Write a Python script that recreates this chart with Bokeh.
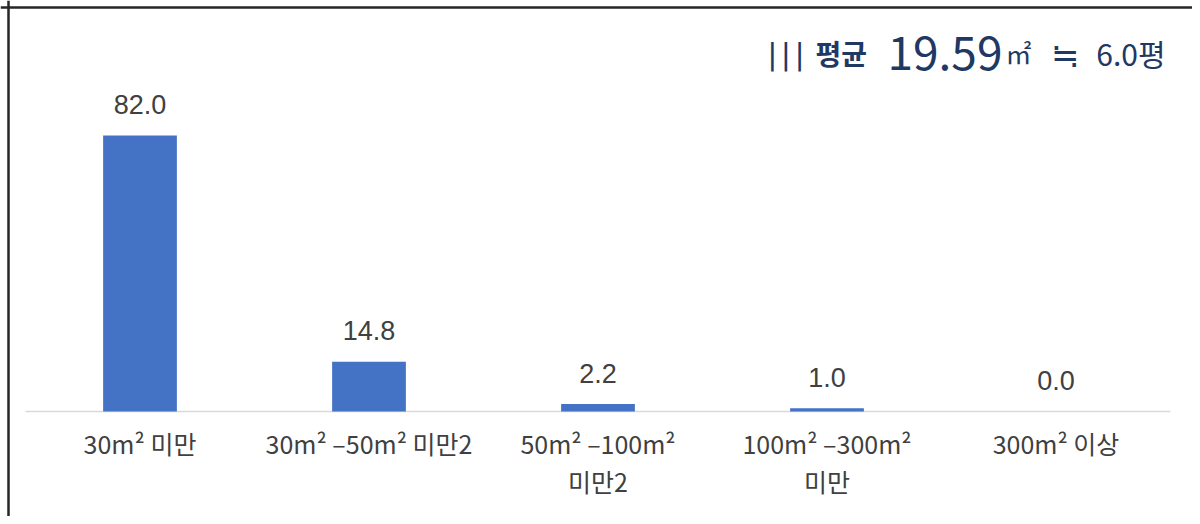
from bokeh.plotting import figure
from bokeh.models import Range1d, Span, ColumnDataSource
from bokeh.core.properties import value
from bokeh.embed import file_html
from bokeh.resources import INLINE

# ---- data ----
categories = ["30m² 미만", "30m² –50m² 미만2", "50m² –100m²\n미만2", "100m² –300m²\n미만", "300m² 이상"]
shares = [82.0, 14.8, 2.2, 1.0, 0.0]
value_labels = ["82.0", "14.8", "2.2", "1.0", "0.0"]
title_parts = ["| | |", "평균", "19.59", "㎡", "≒", "6.0평"]

# ---- layout constants ----
W, H = 1192, 516
PX_PER_CAT = 229
LEFT_PAD, RIGHT_PAD = 25, 22
BASE_Y = 411
PX_PER_UNIT = 3.366
FONT = value("Noto Sans CJK KR")
NUM_FONT = value("Liberation Sans")
TEXT_COLOR = "#404040"
NAVY = "#1F3864"

xs = list(range(len(categories)))
x_start = -0.5 - LEFT_PAD / PX_PER_CAT
x_end = len(categories) - 0.5 + RIGHT_PAD / PX_PER_CAT
y_end = BASE_Y / PX_PER_UNIT
y_start = -(H - BASE_Y) / PX_PER_UNIT

p = figure(width=W, height=H,
           x_range=Range1d(x_start, x_end), y_range=Range1d(y_start, y_end),
           output_backend="svg", toolbar_location=None,
           x_axis_location=None, y_axis_location=None)
p.min_border_left = p.min_border_right = p.min_border_top = p.min_border_bottom = 0
p.outline_line_color = None
p.grid.visible = False
p.background_fill_color = "white"
p.border_fill_color = "white"

# baseline
p.segment(x0=[xs[0] - 0.5], x1=[xs[-1] + 0.5], y0=[0], y1=[0],
          line_color="#D9D9D9", line_width=1.5)

# bars
p.vbar(x=xs, top=shares, bottom=0, width=0.322,
       fill_color="#4472C4", line_color=None)

# value labels
p.text(x=xs, y=shares, text=value_labels, y_offset=-31,
       text_align="center", text_baseline="middle",
       text_font_size="27px", text_color=TEXT_COLOR, text_font=NUM_FONT)

# category labels
p.text(x=xs, y=[0] * len(xs), text=categories, y_offset=13,
       text_align="center", text_baseline="top", text_line_height=1.08,
       text_font_size="25px", text_color=TEXT_COLOR, text_font=FONT)

# title pieces
tsrc = ColumnDataSource(dict(
    x=[x_end] * len(title_parts),
    y=[y_end] * len(title_parts),
    text=title_parts,
    xo=[-424, -377, -305, -187, -142, -27],
    size=["26px", "28px", "46px", "26px", "34px", "30px"],
    style=["bold", "bold", "normal", "normal", "normal", "normal"],
    align=["left", "left", "left", "left", "left", "right"],
))
p.text(x="x", y="y", text="text", source=tsrc, x_offset="xo", y_offset=52,
       text_font_size="size", text_font_style="style", text_align="align",
       text_baseline="alphabetic", text_color=NAVY, text_font=FONT)

# frame border (top & left)
p.add_layout(Span(location=y_end - 7 / PX_PER_UNIT, dimension="width",
                  line_color="#262626", line_width=2.5))
p.add_layout(Span(location=x_start + 8 / PX_PER_CAT, dimension="height",
                  line_color="#262626", line_width=2.5))

open("out.html", "w").write(file_html(p, INLINE))
